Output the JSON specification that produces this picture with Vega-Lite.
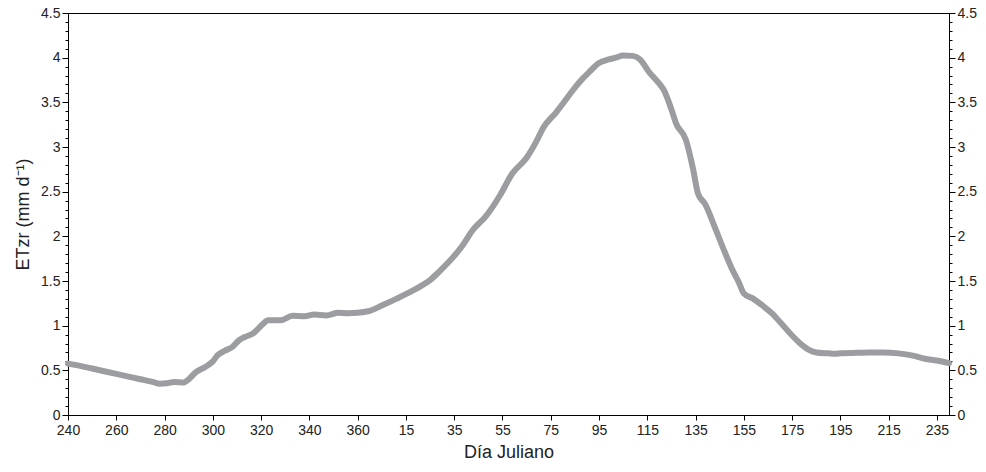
{
  "$schema": "https://vega.github.io/schema/vega-lite/v6.json",
  "width": 881,
  "height": 402,
  "autosize": {"type": "none"},
  "padding": {"left": 68, "top": 13, "right": 37, "bottom": 57},
  "config": {
    "view": {"stroke": "#000", "strokeWidth": 1},
    "font": "Liberation Sans",
    "axis": {"labelFont": "Liberation Sans", "titleFont": "Liberation Sans", "labelColor": "#222", "titleColor": "#222", "domainColor": "#000", "tickColor": "#000", "labelFontSize": 14, "titleFontSize": 18, "titleFontWeight": "normal", "grid": false}
  },
  "data": {"values": [
    {"dia": 240, "et": 0.575}, {"dia": 245, "et": 0.55}, {"dia": 250, "et": 0.52}, {"dia": 255, "et": 0.49},
    {"dia": 260, "et": 0.46}, {"dia": 265, "et": 0.43}, {"dia": 270, "et": 0.40}, {"dia": 275, "et": 0.37},
    {"dia": 278, "et": 0.35}, {"dia": 281, "et": 0.355}, {"dia": 284, "et": 0.37}, {"dia": 288, "et": 0.365},
    {"dia": 290, "et": 0.40}, {"dia": 293, "et": 0.48}, {"dia": 297, "et": 0.54}, {"dia": 300, "et": 0.60},
    {"dia": 302, "et": 0.67}, {"dia": 305, "et": 0.72}, {"dia": 308, "et": 0.76}, {"dia": 311, "et": 0.84},
    {"dia": 313, "et": 0.87}, {"dia": 317, "et": 0.92}, {"dia": 320, "et": 1.00}, {"dia": 323, "et": 1.06},
    {"dia": 328, "et": 1.06}, {"dia": 333, "et": 1.11}, {"dia": 338, "et": 1.105}, {"dia": 342, "et": 1.125},
    {"dia": 347, "et": 1.115}, {"dia": 352, "et": 1.145}, {"dia": 356, "et": 1.14}, {"dia": 360, "et": 1.145},
    {"dia": 365, "et": 1.165}, {"dia": 370, "et": 1.225}, {"dia": 376, "et": 1.30}, {"dia": 382, "et": 1.38},
    {"dia": 386, "et": 1.44}, {"dia": 390, "et": 1.51}, {"dia": 394, "et": 1.61}, {"dia": 398, "et": 1.72},
    {"dia": 403, "et": 1.88}, {"dia": 408, "et": 2.08}, {"dia": 413, "et": 2.22}, {"dia": 419, "et": 2.46},
    {"dia": 424, "et": 2.70}, {"dia": 430, "et": 2.88}, {"dia": 434, "et": 3.06}, {"dia": 437, "et": 3.22},
    {"dia": 442, "et": 3.38}, {"dia": 446, "et": 3.52}, {"dia": 449, "et": 3.63}, {"dia": 453, "et": 3.76},
    {"dia": 456, "et": 3.84}, {"dia": 460, "et": 3.94}, {"dia": 464, "et": 3.98}, {"dia": 467, "et": 4.00},
    {"dia": 470, "et": 4.025}, {"dia": 474, "et": 4.02}, {"dia": 477, "et": 3.98}, {"dia": 481, "et": 3.83},
    {"dia": 484, "et": 3.74}, {"dia": 487, "et": 3.63}, {"dia": 490, "et": 3.42}, {"dia": 492, "et": 3.26},
    {"dia": 496, "et": 3.08}, {"dia": 499, "et": 2.75}, {"dia": 501, "et": 2.48}, {"dia": 504, "et": 2.36},
    {"dia": 508, "et": 2.10}, {"dia": 512, "et": 1.83}, {"dia": 515, "et": 1.64}, {"dia": 518, "et": 1.48},
    {"dia": 520, "et": 1.36}, {"dia": 524, "et": 1.30}, {"dia": 528, "et": 1.22}, {"dia": 532, "et": 1.13},
    {"dia": 536, "et": 1.01}, {"dia": 540, "et": 0.89}, {"dia": 543, "et": 0.81}, {"dia": 547, "et": 0.73},
    {"dia": 550, "et": 0.70}, {"dia": 555, "et": 0.69}, {"dia": 558, "et": 0.685}, {"dia": 560, "et": 0.69},
    {"dia": 565, "et": 0.695}, {"dia": 572, "et": 0.70}, {"dia": 578, "et": 0.70}, {"dia": 584, "et": 0.69},
    {"dia": 590, "et": 0.665}, {"dia": 595, "et": 0.63}, {"dia": 600, "et": 0.61}, {"dia": 605, "et": 0.58}
  ]},
  "encoding": {
    "x": {
      "field": "dia", "type": "quantitative",
      "scale": {"domain": [240, 605], "nice": false, "zero": false},
      "axis": {
        "title": "Día Juliano",
        "values": [240, 260, 280, 300, 320, 340, 360, 380, 400, 420, 440, 460, 480, 500, 520, 540, 560, 580, 600],
        "labelExpr": "datum.value > 365 ? datum.value - 365 : datum.value",
        "tickSize": 5, "labelPadding": 3, "titlePadding": 6, "labelFlush": false
      }
    }
  },
  "layer": [
    {
      "mark": {"type": "line", "color": "#9c9da1", "strokeWidth": 6, "strokeCap": "round", "strokeJoin": "round", "interpolate": "monotone"},
      "encoding": {
        "y": {
          "field": "et", "type": "quantitative",
          "scale": {"domain": [0, 4.5], "nice": false},
          "axis": {
            "orient": "left",
            "title": "ETzr (mm d⁻¹)",
            "values": [0,0.1,0.2,0.3,0.4,0.5,0.6,0.7,0.8,0.9,1,1.1,1.2,1.3,1.4,1.5,1.6,1.7,1.8,1.9,2,2.1,2.2,2.3,2.4,2.5,2.6,2.7,2.8,2.9,3,3.1,3.2,3.3,3.4,3.5,3.6,3.7,3.8,3.9,4,4.1,4.2,4.3,4.4,4.5],
            "labelExpr": "abs(datum.value*2 - round(datum.value*2)) < 0.001 ? datum.value : ''",
            "labelOverlap": false, "labelFlush": false,
            "tickSize": {"condition": {"test": "abs(datum.value*2 - round(datum.value*2)) < 0.001", "value": 6}, "value": 3},
            "labelPadding": 2, "titlePadding": 8
          }
        }
      }
    },
    {
      "mark": {"type": "line", "opacity": 0},
      "encoding": {
        "y": {
          "field": "et", "type": "quantitative",
          "axis": {
            "orient": "right",
            "title": null,
            "values": [0,0.1,0.2,0.3,0.4,0.5,0.6,0.7,0.8,0.9,1,1.1,1.2,1.3,1.4,1.5,1.6,1.7,1.8,1.9,2,2.1,2.2,2.3,2.4,2.5,2.6,2.7,2.8,2.9,3,3.1,3.2,3.3,3.4,3.5,3.6,3.7,3.8,3.9,4,4.1,4.2,4.3,4.4,4.5],
            "labelExpr": "abs(datum.value*2 - round(datum.value*2)) < 0.001 ? datum.value : ''",
            "labelOverlap": false, "labelFlush": false,
            "tickSize": {"condition": {"test": "abs(datum.value*2 - round(datum.value*2)) < 0.001", "value": 6}, "value": 3},
            "labelPadding": 2
          }
        }
      }
    }
  ],
  "resolve": {"axis": {"y": "independent"}}
}
